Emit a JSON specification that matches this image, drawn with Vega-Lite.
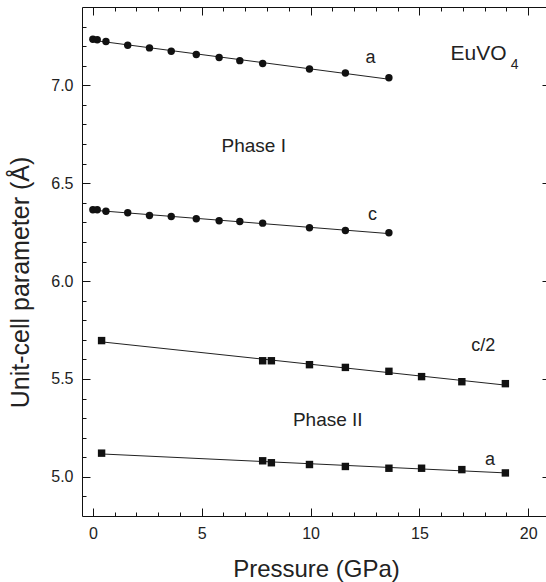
{
  "$schema": "https://vega.github.io/schema/vega-lite/v6.json",
  "width": 468,
  "height": 509,
  "autosize": {"type": "none"},
  "padding": {"left": 82, "top": 7, "right": 0, "bottom": 66},
  "background": "white",
  "config": {
    "view": {"stroke": null},
    "font": "Liberation Sans",
    "axis": {"grid": false, "ticks": false, "labelColor": "#222", "titleColor": "#222", "labelFont": "Liberation Sans", "titleFont": "Liberation Sans", "titleFontWeight": "normal", "labelFontSize": 16, "titleFontSize": 24}
  },
  "datasets": {
    "points": [
      {"series": "Phase I a", "phase": "Phase I", "P": 0.0, "value": 7.235},
      {"series": "Phase I a", "phase": "Phase I", "P": 0.2, "value": 7.233},
      {"series": "Phase I a", "phase": "Phase I", "P": 0.6, "value": 7.224},
      {"series": "Phase I a", "phase": "Phase I", "P": 1.6, "value": 7.205},
      {"series": "Phase I a", "phase": "Phase I", "P": 2.6, "value": 7.191},
      {"series": "Phase I a", "phase": "Phase I", "P": 3.6, "value": 7.174},
      {"series": "Phase I a", "phase": "Phase I", "P": 4.75, "value": 7.157},
      {"series": "Phase I a", "phase": "Phase I", "P": 5.8, "value": 7.142},
      {"series": "Phase I a", "phase": "Phase I", "P": 6.75, "value": 7.126},
      {"series": "Phase I a", "phase": "Phase I", "P": 7.8, "value": 7.111},
      {"series": "Phase I a", "phase": "Phase I", "P": 9.95, "value": 7.083},
      {"series": "Phase I a", "phase": "Phase I", "P": 11.6, "value": 7.063},
      {"series": "Phase I a", "phase": "Phase I", "P": 13.6, "value": 7.039},
      {"series": "Phase I c", "phase": "Phase I", "P": 0.0, "value": 6.364},
      {"series": "Phase I c", "phase": "Phase I", "P": 0.2, "value": 6.364},
      {"series": "Phase I c", "phase": "Phase I", "P": 0.6, "value": 6.357},
      {"series": "Phase I c", "phase": "Phase I", "P": 1.6, "value": 6.349},
      {"series": "Phase I c", "phase": "Phase I", "P": 2.6, "value": 6.335},
      {"series": "Phase I c", "phase": "Phase I", "P": 3.6, "value": 6.33},
      {"series": "Phase I c", "phase": "Phase I", "P": 4.75, "value": 6.318},
      {"series": "Phase I c", "phase": "Phase I", "P": 5.8, "value": 6.308},
      {"series": "Phase I c", "phase": "Phase I", "P": 6.75, "value": 6.304},
      {"series": "Phase I c", "phase": "Phase I", "P": 7.8, "value": 6.296},
      {"series": "Phase I c", "phase": "Phase I", "P": 9.95, "value": 6.272},
      {"series": "Phase I c", "phase": "Phase I", "P": 11.6, "value": 6.258},
      {"series": "Phase I c", "phase": "Phase I", "P": 13.6, "value": 6.247},
      {"series": "Phase II c/2", "phase": "Phase II", "P": 0.4, "value": 5.696},
      {"series": "Phase II c/2", "phase": "Phase II", "P": 7.8, "value": 5.593},
      {"series": "Phase II c/2", "phase": "Phase II", "P": 8.2, "value": 5.593},
      {"series": "Phase II c/2", "phase": "Phase II", "P": 9.95, "value": 5.573},
      {"series": "Phase II c/2", "phase": "Phase II", "P": 11.6, "value": 5.559},
      {"series": "Phase II c/2", "phase": "Phase II", "P": 13.6, "value": 5.539},
      {"series": "Phase II c/2", "phase": "Phase II", "P": 15.1, "value": 5.512},
      {"series": "Phase II c/2", "phase": "Phase II", "P": 16.95, "value": 5.486},
      {"series": "Phase II c/2", "phase": "Phase II", "P": 18.95, "value": 5.476},
      {"series": "Phase II a", "phase": "Phase II", "P": 0.4, "value": 5.121},
      {"series": "Phase II a", "phase": "Phase II", "P": 7.8, "value": 5.082},
      {"series": "Phase II a", "phase": "Phase II", "P": 8.2, "value": 5.072},
      {"series": "Phase II a", "phase": "Phase II", "P": 9.95, "value": 5.063},
      {"series": "Phase II a", "phase": "Phase II", "P": 11.6, "value": 5.053},
      {"series": "Phase II a", "phase": "Phase II", "P": 13.6, "value": 5.044},
      {"series": "Phase II a", "phase": "Phase II", "P": 15.1, "value": 5.044},
      {"series": "Phase II a", "phase": "Phase II", "P": 16.95, "value": 5.037},
      {"series": "Phase II a", "phase": "Phase II", "P": 18.95, "value": 5.02}
    ],
    "letters": [
      {"text": "a", "P": 12.75, "value": 7.114},
      {"text": "c", "P": 12.85, "value": 6.313},
      {"text": "c/2", "P": 17.93, "value": 5.645},
      {"text": "a", "P": 18.24, "value": 5.061}
    ],
    "phases": [
      {"text": "Phase I", "P": 7.39, "value": 6.659},
      {"text": "Phase II", "P": 10.79, "value": 5.261}
    ]
  },
  "resolve": {"axis": {"x": "independent", "y": "independent"}},
  "layer": [
    {
      "data": {"name": "points"},
      "transform": [{"regression": "value", "on": "P", "groupby": ["series"]}],
      "mark": {"type": "line", "color": "#222", "strokeWidth": 1},
      "encoding": {
        "detail": {"field": "series"},
        "x": {"field": "P", "type": "quantitative", "scale": {"domain": [-0.5, 21], "nice": false, "zero": false},
          "axis": {"orient": "bottom", "title": "Pressure (GPa)", "values": [0, 5, 10, 15, 20], "domainColor": "#111",
            "labelPadding": 9, "titleBaseline": "alphabetic", "titleY": 60}},
        "y": {"field": "value", "type": "quantitative", "scale": {"domain": [4.8, 7.4], "nice": false, "zero": false},
          "axis": {"orient": "left", "title": "Unit-cell parameter (Å)", "format": ".1f", "domainColor": "#111",
            "values": [5.0, 5.5, 6.0, 6.5, 7.0], "titleFontSize": 25,
            "labelPadding": 9, "titleBaseline": "alphabetic", "titleX": -54, "titleY": 275, "titleAlign": "center"}}
      }
    },
    {
      "data": {"name": "points"},
      "mark": {"type": "point", "filled": true, "opacity": 1, "size": 55, "color": "#111"},
      "encoding": {
        "x": {"field": "P", "type": "quantitative", "scale": {"domain": [-0.5, 21], "nice": false, "zero": false},
          "axis": {"orient": "bottom", "title": null, "labels": false, "domain": false, "grid": true, "gridColor": "#111", "gridOpacity": 1, "gridWidth": 1, "gridDash": [8, 493, 8],
            "values": [0, 5, 10, 15, 20]}},
        "y": {"field": "value", "type": "quantitative", "scale": {"domain": [4.8, 7.4], "nice": false, "zero": false},
          "axis": {"orient": "left", "title": null, "labels": false, "domain": false, "grid": true, "gridColor": "#111", "gridOpacity": 1, "gridWidth": 1, "gridDash": [8, 452, 8],
            "values": [5.0, 5.5, 6.0, 6.5, 7.0]}},
        "shape": {"field": "phase", "type": "nominal", "scale": {"domain": ["Phase I", "Phase II"], "range": ["circle", "square"]}, "legend": null}
      }
    },
    {
      "data": {"name": "letters"},
      "mark": {"type": "text", "fontSize": 18, "color": "#222", "align": "center", "baseline": "alphabetic"},
      "encoding": {
        "text": {"field": "text"},
        "x": {"field": "P", "type": "quantitative", "scale": {"domain": [-0.5, 21], "nice": false, "zero": false},
          "axis": {"orient": "bottom", "title": null, "labels": false, "domain": false, "grid": true, "gridColor": "#111", "gridOpacity": 1, "gridWidth": 1, "gridDash": [4, 501, 4],
            "values": [1, 2, 3, 4, 6, 7, 8, 9, 11, 12, 13, 14, 16, 17, 18, 19]}},
        "y": {"field": "value", "type": "quantitative", "scale": {"domain": [4.8, 7.4], "nice": false, "zero": false},
          "axis": {"orient": "left", "title": null, "labels": false, "domain": false, "grid": true, "gridColor": "#111", "gridOpacity": 1, "gridWidth": 1, "gridDash": [4, 460, 4],
            "values": [4.9, 5.1, 5.2, 5.3, 5.4, 5.6, 5.7, 5.8, 5.9, 6.1, 6.2, 6.3, 6.4, 6.6, 6.7, 6.8, 6.9, 7.1, 7.2, 7.3]}}
      }
    },
    {
      "data": {"name": "phases"},
      "mark": {"type": "text", "fontSize": 19, "color": "#222", "align": "center", "baseline": "alphabetic"},
      "encoding": {
        "text": {"field": "text"},
        "x": {"field": "P", "type": "quantitative", "scale": {"domain": [-0.5, 21], "nice": false, "zero": false},
          "axis": {"orient": "top", "title": null, "labels": false, "domainColor": "#111", "values": [0, 5, 10, 15, 20]}},
        "y": {"field": "value", "type": "quantitative", "scale": {"domain": [4.8, 7.4], "nice": false, "zero": false}, "axis": null}
      }
    },
    {
      "data": {"values": [{"text": "EuVO", "P": 16.43, "value": 7.131}]},
      "mark": {"type": "text", "fontSize": 21, "color": "#222", "align": "left", "baseline": "alphabetic"},
      "encoding": {
        "text": {"field": "text"},
        "x": {"field": "P", "type": "quantitative", "axis": null},
        "y": {"field": "value", "type": "quantitative", "axis": null}
      }
    },
    {
      "data": {"values": [{"text": "4", "P": 19.2, "value": 7.085}]},
      "mark": {"type": "text", "fontSize": 14, "color": "#222", "align": "left", "baseline": "alphabetic"},
      "encoding": {
        "text": {"field": "text"},
        "x": {"field": "P", "type": "quantitative", "axis": null},
        "y": {"field": "value", "type": "quantitative", "axis": null}
      }
    }
  ]
}
